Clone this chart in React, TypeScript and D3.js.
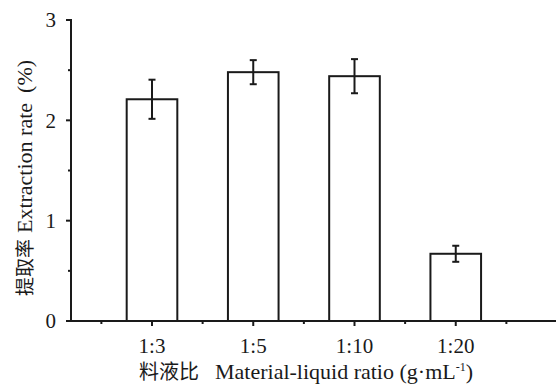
import * as d3 from "d3";
import { useEffect, useRef } from "react";

const categories = ["1:3", "1:5", "1:10", "1:20"];
const rates = [2.21, 2.48, 2.44, 0.67];
const errors = [0.195, 0.12, 0.17, 0.08];
const yTicks = [0, 1, 2, 3];

const W = 556;
const H = 384;

const App = () => {
  const ref = useRef<SVGSVGElement>(null);

  useEffect(() => {
    const svg = d3.select(ref.current);
    svg.selectAll("*").remove();

    const ink = "#1a1a1a";
    const font = "Liberation Serif, DejaVu Serif, serif";
    const cjk = "Noto Sans CJK SC, sans-serif";

    const x = d3.scaleLinear().domain([0.2, 5]).range([71, 557]);
    const y = d3.scaleLinear().domain([0, 3]).range([321, 20]);
    const barW = x(1.25) - x(1);

    // bars
    svg.append("g")
      .selectAll("rect")
      .data(rates)
      .enter()
      .append("rect")
      .attr("x", (d, i) => x(i + 1) - barW)
      .attr("y", d => y(d))
      .attr("width", barW * 2)
      .attr("height", d => y(0) - y(d))
      .attr("fill", "white")
      .attr("stroke", ink)
      .attr("stroke-width", 2);

    // error bars
    const eb = svg.append("g").attr("stroke", ink).attr("stroke-width", 2);
    rates.forEach((v, i) => {
      const cx = x(i + 1);
      const top = y(v + errors[i]);
      const bot = y(v - errors[i]);
      eb.append("line").attr("x1", cx).attr("x2", cx).attr("y1", top).attr("y2", bot);
      eb.append("line").attr("x1", cx - 3.5).attr("x2", cx + 3.5).attr("y1", top).attr("y2", top);
      eb.append("line").attr("x1", cx - 3.5).attr("x2", cx + 3.5).attr("y1", bot).attr("y2", bot);
    });

    // x axis
    const xa = svg.append("g").attr("stroke", ink).attr("stroke-width", 2);
    xa.append("line")
      .attr("x1", x(0.2) - 1).attr("x2", W)
      .attr("y1", y(0)).attr("y2", y(0));
    categories.forEach((c, i) => {
      xa.append("line")
        .attr("x1", x(i + 1)).attr("x2", x(i + 1))
        .attr("y1", y(0)).attr("y2", y(0) + 5);
    });
    d3.range(0.5, 5, 1).forEach(p => {
      xa.append("line")
        .attr("x1", x(p)).attr("x2", x(p))
        .attr("y1", y(0)).attr("y2", y(0) + 3);
    });
    svg.append("g")
      .selectAll("text")
      .data(categories)
      .enter()
      .append("text")
      .attr("x", (d, i) => x(i + 1))
      .attr("y", 353)
      .attr("text-anchor", "middle")
      .style("font-family", font)
      .style("font-size", "21px")
      .attr("fill", ink)
      .text(d => d);

    // y axis
    const ya = svg.append("g").attr("stroke", ink).attr("stroke-width", 2);
    ya.append("line")
      .attr("x1", x(0.2)).attr("x2", x(0.2))
      .attr("y1", y(3) - 1).attr("y2", y(0) + 1);
    yTicks.forEach(t => {
      ya.append("line")
        .attr("x1", x(0.2) - 5).attr("x2", x(0.2))
        .attr("y1", y(t)).attr("y2", y(t));
    });
    d3.range(0.5, 3, 1).forEach(t => {
      ya.append("line")
        .attr("x1", x(0.2) - 3).attr("x2", x(0.2))
        .attr("y1", y(t)).attr("y2", y(t));
    });
    svg.append("g")
      .selectAll("text")
      .data(yTicks)
      .enter()
      .append("text")
      .attr("x", 56)
      .attr("y", d => y(d))
      .attr("dy", "0.35em")
      .attr("text-anchor", "end")
      .style("font-family", font)
      .style("font-size", "21px")
      .attr("fill", ink)
      .text(d => d);

    // axis titles
    const xt = svg.append("text")
      .attr("x", 306)
      .attr("y", 379)
      .attr("text-anchor", "middle")
      .style("font-family", font)
      .style("font-size", "22px")
      .attr("fill", ink);
    xt.append("tspan").style("font-family", cjk).style("font-size", "20px").text("料液比");
    xt.append("tspan").attr("dx", 16).text("Material-liquid ratio (g·mL");
    xt.append("tspan").attr("dy", -8).style("font-size", "12px").text("-1");
    xt.append("tspan").attr("dy", 8).text(")");

    const yt = svg.append("text")
      .attr("transform", `translate(32, 178) rotate(-90)`)
      .attr("text-anchor", "middle")
      .style("font-family", font)
      .style("font-size", "22px")
      .attr("fill", ink);
    yt.append("tspan").style("font-family", cjk).style("font-size", "19px").text("提取率");
    yt.append("tspan").attr("dx", 6).text("Extraction rate");
    yt.append("tspan").attr("dx", 10).text("(%)");
  }, []);

  return (
    <svg
      ref={ref}
      width={W}
      height={H}
      style={{ position: "absolute", left: 0, top: 0, display: "block" }}
    ></svg>
  );
};

export default App;
